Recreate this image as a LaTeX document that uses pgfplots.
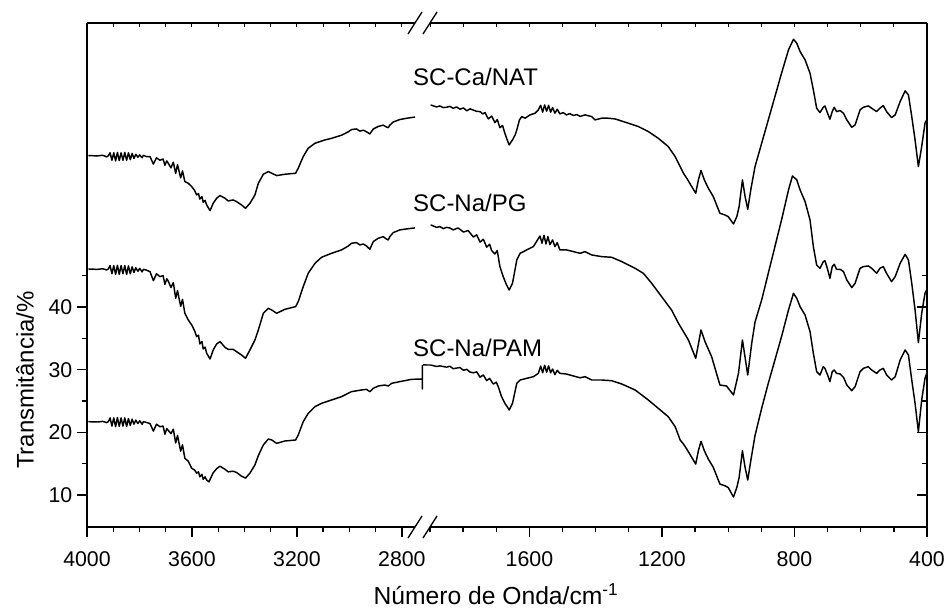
\documentclass[border=0pt]{standalone}
\usepackage{fontspec}
\setmainfont{Liberation Sans}
\usepackage{pgfplots}
\pgfplotsset{compat=1.18}

\pgfplotsset{
  ftir/.style={
    scale only axis, height=378pt,
    ymin=4.9, ymax=85.3, x dir=reverse,
    axis x line*=box,
    ytick={10,20,30,40}, minor ytick={15,25,35,45},
    xtick pos=left,
    major tick length=7.5pt, minor tick length=3.75pt,
    every tick/.style={black, line width=1pt},
    axis line style={line width=1.4pt},
    tick label style={font=\fontsize{16}{19}\selectfont},
    xticklabel style={yshift=-7.5pt},
    /pgf/number format/assume math mode=true,
    /pgf/number format/1000 sep={},
    clip=false,
  },
  spec/.style={black, line width=1.1pt, no marks, line join=round},
  toptick/.style={
    scale only axis, height=378pt, ymin=4.9, ymax=85.3, x dir=reverse,
    axis x line*=top, axis y line=none, ytick=\empty,
    xticklabels={}, tick align=inside,
    major tick length=3pt, minor tick length=3pt,
    every tick/.style={black, line width=0.7pt},
    axis line style={line width=1.4pt},
  },
}

\begin{document}
\begin{tikzpicture}
% left part, 4000 - 2750
\begin{axis}[ftir, name=L, at={(0,0)}, anchor=south west,
  width=246pt, xmin=2750, xmax=4000,
  axis y line*=left, ytick pos=left, tick align=outside,
  xtick={2800,3200,3600,4000},
  minor xtick={2900,3000,3100,3300,3400,3500,3700,3800,3900},
  ylabel={Transmitância/\%},
  ylabel style={at={(axis description cs:-0.189,0.2917)}, anchor=center,
    font=\fontsize{18}{21}\selectfont},
  xlabel={Número de Onda/cm\textsuperscript{-1}},
  xlabel style={at={(axis description cs:1.247,0)}, anchor=base, yshift=-57.75pt,
    font=\fontsize{18.5}{22}\selectfont},
]
% SC-Ca/NAT
\addplot[spec] coordinates {
(3995,64.15) (3960,64.1) (3940,64.2) (3925,63.95) (3919,64.1)
(3912,64.6) (3905,63.4) (3898,64.6) (3891,63.3) (3884,64.65) (3877,63.35) (3870,64.6)
(3863,63.4) (3856,64.65) (3849,63.4) (3842,64.6) (3835,63.5) (3828,64.5) (3821,63.7)
(3814,64.35) (3806,63.9) (3799,64.25) (3790,63.8) (3785,64.2)
(3775,64.0) (3760,63.99) (3747,62.8) (3735,63.8) (3722,63.4) (3710,63.6) (3703,62.6) (3696,63.3)
(3690,62.9) (3680,62.2) (3671,63.1) (3662,61.3) (3655,62.7) (3643,60.6) (3636,61.7) (3627,60.0)
(3614,59.73) (3601,59.2) (3590,58.6) (3582,57.87) (3575,58.1) (3570,57.2) (3562,57.6)
(3557,56.7) (3550,57.0) (3544,56.28) (3531,55.37) (3519,56.54) (3506,57.34) (3493,57.77)
(3474,57.34) (3462,56.91) (3443,57.07) (3430,56.81) (3411,56.28) (3396,55.74) (3379,56.54)
(3360,57.87) (3347,59.73) (3328,61.17) (3309,61.6) (3296,61.33) (3277,60.96) (3246,61.17)
(3205,61.33) (3195,62.13) (3176,63.99) (3157,65.32) (3131,66.12) (3093,66.65) (3068,66.9)
(3030,67.4) (3004,67.95) (2992,68.3) (2973,68.4) (2960,68.05) (2947,68.2) (2935,67.95)
(2922,67.6) (2909,68.4) (2890,68.8) (2871,69.0) (2858,68.7) (2852,68.6) (2846,69.0)
(2833,69.5) (2808,69.9) (2782,70.1) (2750,70.3)
};
% SC-Na/PG
\addplot[spec] coordinates {
(3995,46.06) (3960,46.0) (3940,46.1) (3925,45.9) (3919,46.05)
(3912,46.6) (3905,45.3) (3898,46.6) (3891,45.2) (3884,46.65) (3877,45.2) (3870,46.6)
(3863,45.3) (3856,46.6) (3849,45.2) (3842,46.55) (3835,45.3) (3828,46.4) (3821,45.5)
(3814,46.25) (3806,45.7) (3799,46.15) (3790,45.6) (3785,46.0)
(3775,45.9) (3760,45.64) (3747,44.2) (3735,45.3) (3722,44.84) (3710,45.0) (3703,43.6) (3696,44.5)
(3690,44.1) (3680,43.1) (3671,43.9) (3662,41.4) (3655,42.6) (3643,40.1) (3636,41.2) (3627,38.99)
(3614,37.93) (3601,37.13) (3590,36.2) (3582,35.27) (3575,35.5) (3570,34.1) (3562,34.5)
(3557,33.3) (3550,33.6) (3544,32.61) (3531,31.7) (3519,33.14) (3506,34.10) (3493,34.47)
(3474,33.56) (3462,33.24) (3443,33.24) (3430,32.87) (3411,32.34) (3396,31.81) (3379,33.14)
(3360,34.73) (3347,36.33) (3328,38.99) (3309,39.79) (3296,39.52) (3277,38.99) (3246,39.63)
(3205,40.05) (3195,40.85) (3176,43.24) (3157,45.37) (3131,46.97) (3106,47.93) (3068,48.56)
(3030,49.10) (3004,49.73) (2992,50.16) (2973,50.27) (2960,49.89) (2947,50.05) (2935,49.73)
(2922,49.20) (2909,50.43) (2890,50.96) (2871,51.22) (2858,50.80) (2852,50.69) (2846,51.22)
(2833,51.86) (2808,52.29) (2782,52.45) (2750,52.61)
};
% SC-Na/PAM
\addplot[spec] coordinates {
(3995,21.70) (3960,21.65) (3940,21.75) (3925,21.55) (3919,21.7)
(3912,22.3) (3905,21.0) (3898,22.3) (3891,20.9) (3884,22.35) (3877,20.95) (3870,22.3)
(3863,21.0) (3856,22.3) (3849,20.95) (3842,22.2) (3835,21.1) (3828,22.1) (3821,21.3)
(3814,21.95) (3806,21.4) (3799,21.85) (3790,21.3) (3785,21.7)
(3775,21.6) (3760,21.4) (3747,20.2) (3735,21.3) (3722,20.9) (3710,21.0) (3703,19.7) (3696,20.6)
(3690,20.3) (3680,19.8) (3671,20.5) (3662,18.3) (3655,19.5) (3643,17.0) (3636,18.0) (3627,15.85)
(3614,15.4) (3601,14.26) (3590,14.0) (3582,13.5) (3575,13.7) (3570,12.9) (3562,13.3)
(3557,12.5) (3550,12.9) (3544,12.4) (3535,12.1) (3520,13.5) (3506,14.2) (3493,14.6)
(3474,14.1) (3462,13.7) (3443,13.8) (3430,13.6) (3411,13.0) (3396,12.7) (3379,13.5)
(3360,14.8) (3347,16.3) (3328,17.98) (3309,18.94) (3296,18.78) (3277,18.24) (3246,18.62)
(3205,18.78) (3195,19.57) (3176,21.70) (3157,23.03) (3131,24.10) (3106,24.63) (3068,25.16)
(3030,25.69) (2992,26.49) (2954,26.76) (2935,26.86) (2922,26.49) (2909,27.02) (2890,27.39)
(2865,27.55) (2852,27.39) (2839,27.82) (2808,28.09) (2763,28.46) (2722,28.5)
(2722,26.92) (2722,30.75)
};
\node[anchor=base west, inner sep=0pt, font=\fontsize{18}{21}\selectfont]
  at (axis cs:2758,75.26) {SC-Ca/NAT};
\node[anchor=base west, inner sep=0pt, font=\fontsize{18}{21}\selectfont]
  at (axis cs:2758,55.2) {SC-Na/PG};
\node[anchor=base west, inner sep=0pt, font=\fontsize{18}{21}\selectfont]
  at (axis cs:2758,32.07) {SC-Na/PAM};
\end{axis}
\begin{axis}[toptick, at={(0,0)}, anchor=south west, width=246pt,
  xmin=2750, xmax=4000, xtick={2800,3200,3600,4000},
  minor xtick={2900,3000,3100,3300,3400,3500,3700,3800,3900}]
\end{axis}

% right part, 1900 - 400
\begin{axis}[ftir, name=R, at={(257.25pt,0)}, anchor=south west,
  width=372.75pt, xmin=400, xmax=1900,
  axis y line*=right, ytick pos=right, yticklabels={},
  xtick align=outside, ytick align=inside,
  xtick={400,800,1200,1600},
  minor xtick={500,600,700,900,1000,1100,1300,1400,1500,1700,1800,1900},
]
% SC-Ca/NAT
\addplot[spec] coordinates {
(1898,72.23) (1880,71.9) (1870,72.07) (1860,71.8) (1850,71.86) (1840,72.0) (1830,71.7)
(1820,71.9) (1809,71.55) (1799,71.75) (1789,71.3) (1779,71.6) (1769,71.4) (1759,71.2)
(1749,71.17) (1741,70.8) (1734,71.0) (1724,70.0) (1714,70.45) (1704,69.4) (1697,69.9)
(1689,68.6) (1681,68.95) (1674,67.71) (1667,66.65) (1661,65.85) (1651,66.65) (1643,67.45)
(1638,68.24) (1630,69.84) (1623,70.37) (1613,70.11) (1598,70.64) (1583,70.90) (1573,71.44)
(1566,72.17) (1560,71.07) (1554,72.23) (1548,71.23) (1542,72.17) (1536,71.07) (1530,71.80)
(1523,70.91) (1516,71.54) (1508,70.80) (1498,71.0) (1488,70.64) (1478,70.85) (1467,70.54)
(1457,70.7) (1447,70.40) (1432,70.64) (1412,70.37)
(1402,69.84) (1382,70.11) (1362,70.11) (1342,70.0) (1332,69.84) (1301,69.31) (1271,68.78)
(1241,67.98) (1211,66.91) (1181,65.59) (1160,63.99) (1145,62.39) (1135,61.33) (1125,60.53)
(1110,59.20) (1098,58.14) (1090,60.27) (1082,61.76) (1072,60.27) (1060,58.94) (1045,57.61)
(1025,54.95) (1010,54.68) (1000,54.41) (984,53.24) (974,54.41) (967,56.01) (957,60.27)
(949,57.61) (941,55.59) (931,58.94) (919,62.4) (899,66.12) (879,69.84) (859,73.56)
(839,77.29) (818,81.01) (803,82.71) (793,82.07) (783,80.74) (768,79.41) (753,77.29)
(743,74.63) (733,71.70) (723,71.01) (713,71.86) (708,72.07) (700,70.90) (693,69.95)
(686,71.17) (680,71.86) (673,71.17) (662,71.33) (652,70.90) (642,69.84) (627,68.67)
(617,69.04) (602,71.44) (592,71.86) (577,72.07) (567,71.70) (552,71.17) (542,71.70)
(532,72.13) (522,71.17) (507,70.21) (496,70.64) (481,72.77) (466,74.47) (456,73.83)
(446,70.37) (436,66.65) (426,62.39) (416,65.59) (406,69.31) (401,69.84)
};
% SC-Na/PG
\addplot[spec] coordinates {
(1898,53.09) (1880,52.7) (1870,52.82) (1860,52.5) (1850,52.7) (1840,52.6) (1830,52.3)
(1815,52.6) (1799,51.95) (1785,52.2) (1769,51.15) (1759,51.5) (1749,50.35) (1739,50.8)
(1729,49.55) (1720,50.0) (1714,49.0) (1704,48.45) (1697,49.0) (1689,46.44) (1679,44.84)
(1669,43.51) (1661,42.71) (1651,43.78) (1638,47.5) (1628,48.56) (1608,49.10) (1588,49.63)
(1568,51.32) (1562,50.17) (1556,51.43) (1550,50.06) (1544,51.22) (1538,49.95) (1530,50.69)
(1523,49.63) (1516,50.26) (1508,49.10) (1488,49.1) (1467,48.83) (1447,48.56) (1432,48.83)
(1412,48.30) (1382,48.03) (1352,47.93) (1321,47.23)
(1281,46.17) (1256,45.37) (1231,43.78) (1201,41.65) (1171,39.52) (1150,37.39) (1135,36.06)
(1120,34.73) (1098,31.81) (1082,36.33) (1070,34.47) (1050,32.07) (1025,27.55) (1005,27.39)
(984,25.96) (969,29.41) (957,34.73) (941,29.15) (929,34.20) (919,37.6) (899,41.12)
(879,45.37) (859,49.63) (839,53.88) (818,58.67) (806,60.90) (793,60.27) (783,58.67)
(768,56.81) (753,53.88) (743,49.63) (733,46.70) (723,46.17) (713,47.23) (708,47.39)
(700,46.01) (693,44.57) (686,46.44) (680,46.81) (673,46.01) (662,46.01) (652,45.64)
(642,44.31) (627,43.09) (617,43.78) (602,46.17) (592,46.44) (577,46.54) (567,46.17)
(552,45.37) (542,46.17) (532,46.44) (522,45.37) (507,44.04) (496,44.84) (481,46.97)
(466,48.40) (456,47.5) (446,43.78) (436,39.52) (426,34.31) (416,38.99) (406,42.18)
(401,42.71)
};
% SC-Na/PAM
\addplot[spec] coordinates {
(1921,30.75) (1898,30.74) (1880,30.5) (1870,30.6) (1850,30.4) (1840,30.55) (1830,30.15)
(1810,30.35) (1799,29.9) (1789,30.05) (1779,29.6) (1769,29.5) (1759,29.65) (1749,28.8)
(1739,29.15) (1729,28.25) (1720,28.6) (1709,27.7) (1700,28.0) (1694,27.29) (1684,25.69)
(1674,24.63) (1667,24.10) (1661,23.56) (1651,24.63) (1638,27.82)
(1628,28.35) (1608,28.62) (1588,28.88) (1573,29.41) (1566,30.58) (1560,29.5) (1554,30.7)
(1548,29.6) (1542,30.6) (1536,29.5) (1530,30.1) (1523,29.2) (1516,29.9) (1508,29.41)
(1488,29.3) (1467,28.99) (1447,28.7) (1432,28.88) (1412,28.35) (1382,28.35) (1352,28.24) (1321,27.71)
(1281,26.76) (1241,25.16) (1211,23.83) (1181,22.5) (1160,20.9) (1145,18.78) (1135,18.13)
(1125,17.33) (1110,16.0) (1098,14.94) (1090,17.07) (1082,18.56) (1072,17.07) (1060,15.74)
(1045,14.41) (1025,11.75) (1010,11.48) (1000,11.21) (984,9.68) (974,11.2) (967,12.8)
(957,17.07) (949,14.4) (941,12.4) (931,15.74) (919,19.5) (899,23.83) (879,27.82)
(859,31.54) (839,35.27) (818,39.52) (803,42.18) (793,41.38) (783,40.05) (768,38.72)
(753,36.06) (743,32.61) (733,29.68) (723,29.15) (713,30.48) (708,30.21) (700,29.15)
(693,28.09) (686,29.68) (680,29.95) (673,29.41) (662,29.31) (652,28.78) (642,27.55)
(627,26.65) (617,27.29) (602,29.68) (592,30.21) (577,30.48) (567,29.95) (552,29.41)
(542,29.95) (532,30.21) (522,29.15) (507,28.35) (496,28.88) (481,31.54) (466,33.14)
(456,32.34) (446,28.35) (436,24.63) (426,20.11) (416,25.16) (406,28.62) (401,29.41)
};
\end{axis}
\begin{axis}[toptick, at={(257.25pt,0)}, anchor=south west, width=372.75pt,
  xmin=400, xmax=1900, xtick={400,800,1200,1600},
  minor xtick={500,600,700,900,1000,1100,1300,1400,1500,1700,1800,1900}]
\end{axis}

% axis break marks
\foreach \a in {L.south east, L.north east, R.south west, R.north west}
  \draw[line width=1pt] ([shift={(-5.25pt,-8.25pt)}]\a) -- ([shift={(5.25pt,8.25pt)}]\a);

\pgfresetboundingbox
\useasboundingbox (-65.25pt,-60.75pt) rectangle (644.25pt,395.25pt);
\end{tikzpicture}
\end{document}
